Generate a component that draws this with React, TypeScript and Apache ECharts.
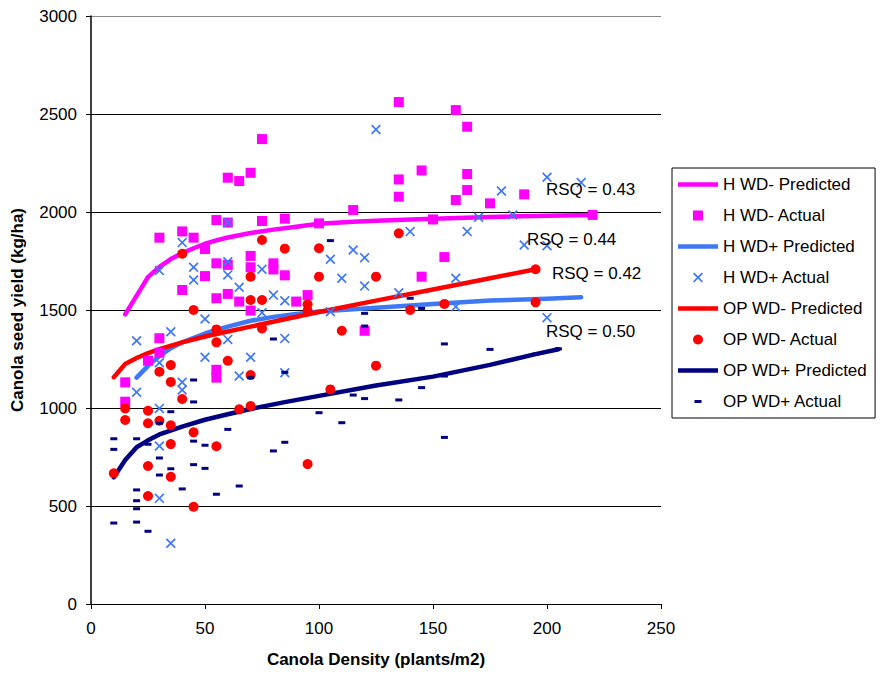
import React, { useEffect, useRef } from "react";
import * as echarts from "echarts";

const FONT = "Arial, 'Liberation Sans', Helvetica, sans-serif";

const xTicks = { min: 0, max: 250, interval: 50 };
const yTicks = { min: 0, max: 3000, interval: 500 };

const seriesNames = [
  "H WD- Predicted",
  "H WD- Actual",
  "H WD+ Predicted",
  "H WD+ Actual",
  "OP WD- Predicted",
  "OP WD- Actual",
  "OP WD+ Predicted",
  "OP WD+ Actual",
];

const hWdMinusPredicted: [number, number][] = [
  [15, 1478], [25, 1668], [30, 1720], [35, 1760], [40, 1790], [45, 1815], [50, 1838],
  [55, 1855], [60, 1870], [70, 1893], [80, 1910], [90, 1925], [100, 1940], [115, 1950],
  [125, 1955], [150, 1965], [175, 1975], [200, 1981], [220, 1985],
];

const hWdMinusActual: [number, number][] = [
  [15, 1131], [15, 1032], [25, 1241], [30, 1869], [30, 1356], [30, 1282], [40, 1901],
  [40, 1602], [45, 1869], [50, 1811], [50, 1673], [55, 1959], [55, 1738], [55, 1560],
  [55, 1195], [55, 1155], [60, 2175], [60, 1946], [60, 1730], [60, 1582], [65, 2158],
  [65, 1543], [70, 2200], [70, 1776], [70, 1718], [70, 1497], [75, 2372], [75, 1954],
  [80, 1738], [80, 1707], [85, 1966], [85, 1677], [90, 1543], [95, 1576], [100, 1942],
  [115, 2010], [120, 1394], [135, 2561], [135, 2166], [135, 2078], [145, 2212], [145, 1670],
  [150, 1962], [155, 1770], [160, 2520], [160, 2061], [165, 2435], [165, 2194], [165, 2112],
  [175, 2044], [190, 2090], [220, 1985],
];

const hWdPlusPredicted: [number, number][] = [
  [20, 1155], [25, 1215], [30, 1265], [35, 1305], [40, 1335], [50, 1380], [55, 1398],
  [60, 1415], [70, 1445], [80, 1465], [90, 1480], [100, 1492], [125, 1512], [150, 1530],
  [175, 1548], [200, 1558], [215, 1565],
];

const hWdPlusActual: [number, number][] = [
  [20, 1343], [20, 1080], [30, 1701], [30, 1231], [30, 998], [30, 806], [30, 539],
  [35, 1389], [35, 310], [40, 1844], [40, 1131], [40, 1092], [45, 1718], [45, 1653],
  [50, 1454], [50, 1259], [60, 1946], [60, 1746], [60, 1679], [60, 1350], [65, 1616],
  [65, 1163], [70, 1259], [75, 1708], [75, 1486], [80, 1576], [85, 1547], [85, 1355],
  [85, 1180], [105, 1759], [105, 1491], [110, 1662], [115, 1806], [120, 1767], [120, 1622],
  [125, 2421], [135, 1588], [140, 1900], [160, 1662], [160, 1517], [165, 1900], [170, 1973],
  [180, 2107], [185, 1985], [190, 1832], [200, 2177], [200, 1828], [200, 1461], [215, 2150],
];

const opWdMinusPredicted: [number, number][] = [
  [10, 1157], [15, 1224], [20, 1255], [25, 1280], [30, 1300], [40, 1335], [50, 1365],
  [60, 1390], [70, 1415], [85, 1453], [100, 1490], [125, 1548], [150, 1605], [175, 1662],
  [195, 1708],
];

const opWdMinusActual: [number, number][] = [
  [10, 667], [15, 998], [15, 939], [25, 986], [25, 922], [25, 704], [25, 551], [30, 1185],
  [30, 935], [35, 1219], [35, 1133], [35, 912], [35, 816], [35, 649], [40, 1787], [40, 1046],
  [45, 1500], [45, 876], [45, 496], [55, 1401], [55, 1335], [55, 805], [60, 1241], [65, 993],
  [70, 1670], [70, 1551], [70, 1168], [70, 1010], [75, 1857], [75, 1551], [75, 1406],
  [85, 1813], [95, 1529], [95, 1497], [95, 714], [100, 1815], [100, 1670], [105, 1095],
  [110, 1394], [125, 1670], [125, 1216], [135, 1891], [140, 1500], [155, 1531], [195, 1708],
  [195, 1539],
];

const opWdPlusPredicted: [number, number][] = [
  [10, 646], [15, 735], [20, 800], [25, 835], [30, 865], [40, 905], [50, 940], [60, 968],
  [70, 995], [85, 1030], [100, 1062], [125, 1115], [150, 1160], [175, 1220], [195, 1275],
  [205, 1300],
];

const opWdPlusActual: [number, number][] = [
  [10, 843], [10, 789], [10, 413], [20, 843], [20, 582], [20, 527], [20, 486], [20, 418],
  [25, 815], [25, 371], [30, 922], [30, 745], [30, 658], [35, 981], [35, 690], [40, 587],
  [45, 1143], [45, 1031], [45, 831], [45, 711], [50, 810], [50, 692], [55, 560], [60, 891],
  [65, 602], [70, 1155], [80, 1352], [80, 781], [85, 1182], [85, 825], [100, 976],
  [105, 1854], [110, 925], [115, 1066], [120, 1483], [120, 1418], [120, 1048], [135, 1041],
  [140, 1560], [145, 1508], [145, 1104], [155, 1327], [155, 1163], [155, 850], [175, 1299],
  [195, 1275], [205, 1302],
];

const rsqLabels = ["RSQ = 0.43", "RSQ = 0.44", "RSQ = 0.42", "RSQ = 0.50"];

const COLORS = {
  magenta: "#FF00FF",
  blue: "#3F78F5",
  red: "#FF0000",
  navy: "#000080",
};

const X_PATH = "path://M0,1.2L1.2,0L10,8.8L8.8,10Z M8.8,0L10,1.2L1.2,10L0,8.8Z";
const X_ICON = "path://M0,0M40,10M15,1.2L16.2,0L25,8.8L23.8,10Z M23.8,0L25,1.2L16.2,10L15,8.8Z";
const SQUARE_ICON = "path://M0,0M40,10M15,0h10v10h-10z";
const DASH_ICON = "path://M0,0M40,10M16.5,3.5h7v3h-7z";
const LINE_ICON = "path://M0,0M40,10M0,2.75h40v4.5h-40z";

export default function App() {
  const ref = useRef<HTMLDivElement>(null);

  useEffect(() => {
    document.body.style.margin = "0";
    if (!ref.current) return;
    const chart = echarts.init(ref.current, null, { renderer: "svg" });

    const lineSeries = (name: string, data: [number, number][], color: string) => ({
      name,
      type: "line",
      data,
      symbol: "none",
      smooth: false,
      lineStyle: { color, width: 4.5, cap: "round", join: "round" },
      itemStyle: { color },
      z: 2,
    });

    const scatterSeries = (
      name: string,
      data: [number, number][],
      color: string,
      symbol: string,
      symbolSize: number | number[]
    ) => ({
      name,
      type: "scatter",
      data,
      symbol,
      symbolSize,
      itemStyle: { color, opacity: 1 },
      z: 3,
    });

    const rsqPos = [
      [546, 189],
      [527, 239],
      [552, 273],
      [546, 331],
    ];

    chart.setOption({
      animation: false,
      backgroundColor: "#fff",
      textStyle: { fontFamily: FONT },
      grid: { left: 91, top: 16, right: 221, bottom: 73, containLabel: false },
      xAxis: {
        type: "value",
        min: xTicks.min,
        max: xTicks.max,
        interval: xTicks.interval,
        name: "Canola Density (plants/m2)",
        nameLocation: "middle",
        nameGap: 47,
        nameTextStyle: { fontWeight: "bold", fontSize: 17, color: "#000", fontFamily: FONT },
        axisLine: { show: true, onZero: false, lineStyle: { color: "#000", width: 1 } },
        axisTick: { show: true, length: 5, lineStyle: { color: "#000" } },
        axisLabel: {
          fontSize: 17,
          color: "#000",
          margin: 16,
          fontFamily: FONT,
          formatter: (v: number) => String(v),
        },
        splitLine: { show: false },
      },
      yAxis: {
        type: "value",
        min: yTicks.min,
        max: yTicks.max,
        interval: yTicks.interval,
        name: "Canola seed yield (kg/ha)",
        nameLocation: "middle",
        nameGap: 65,
        nameTextStyle: { fontWeight: "bold", fontSize: 17, color: "#000", fontFamily: FONT },
        axisLine: { show: true, lineStyle: { color: "#000", width: 1.5 } },
        axisTick: { show: true, length: 5, lineStyle: { color: "#000" } },
        axisLabel: {
          fontSize: 17,
          color: "#000",
          margin: 14,
          fontFamily: FONT,
          formatter: (v: number) => String(v),
        },
        splitLine: {
          show: true,
          lineStyle: {
            color: ["#000", "#000", "#000", "#000", "#000", "#000", "#8a8a8a"],
            width: 1,
          },
        },
      },
      legend: {
        orient: "vertical",
        left: 672,
        top: 168,
        itemWidth: 40,
        itemHeight: 10,
        itemGap: 0,
        padding: [1, 8, 1, 6],
        borderColor: "#000",
        borderWidth: 1,
        backgroundColor: "#fff",
        selectedMode: false,
        lineStyle: { width: "inherit" },
        textStyle: { fontSize: 17, lineHeight: 31, color: "#000", fontFamily: FONT },
        data: [
          { name: seriesNames[0], icon: LINE_ICON },
          { name: seriesNames[1], icon: SQUARE_ICON },
          { name: seriesNames[2], icon: LINE_ICON },
          { name: seriesNames[3], icon: X_ICON },
          { name: seriesNames[4], icon: LINE_ICON },
          { name: seriesNames[5], icon: "circle" },
          { name: seriesNames[6], icon: LINE_ICON },
          { name: seriesNames[7], icon: DASH_ICON },
        ],
      },
      graphic: rsqLabels.map((t, i) => ({
        type: "text",
        x: rsqPos[i][0],
        y: rsqPos[i][1],
        z: 10,
        style: {
          text: t,
          fontSize: 17,
          fontFamily: FONT,
          fill: "#000",
          verticalAlign: "middle",
        },
      })),
      series: [
        lineSeries(seriesNames[0], hWdMinusPredicted, COLORS.magenta),
        scatterSeries(seriesNames[1], hWdMinusActual, COLORS.magenta, "rect", 10),
        lineSeries(seriesNames[2], hWdPlusPredicted, COLORS.blue),
        scatterSeries(seriesNames[3], hWdPlusActual, COLORS.blue, X_PATH, 10),
        lineSeries(seriesNames[4], opWdMinusPredicted, COLORS.red),
        scatterSeries(seriesNames[5], opWdMinusActual, COLORS.red, "circle", 10),
        lineSeries(seriesNames[6], opWdPlusPredicted, COLORS.navy),
        scatterSeries(seriesNames[7], opWdPlusActual, COLORS.navy, "rect", [7, 3]),
      ],
    });

    return () => chart.dispose();
  }, []);

  return <div ref={ref} style={{ width: 882, height: 677 }} />;
}
